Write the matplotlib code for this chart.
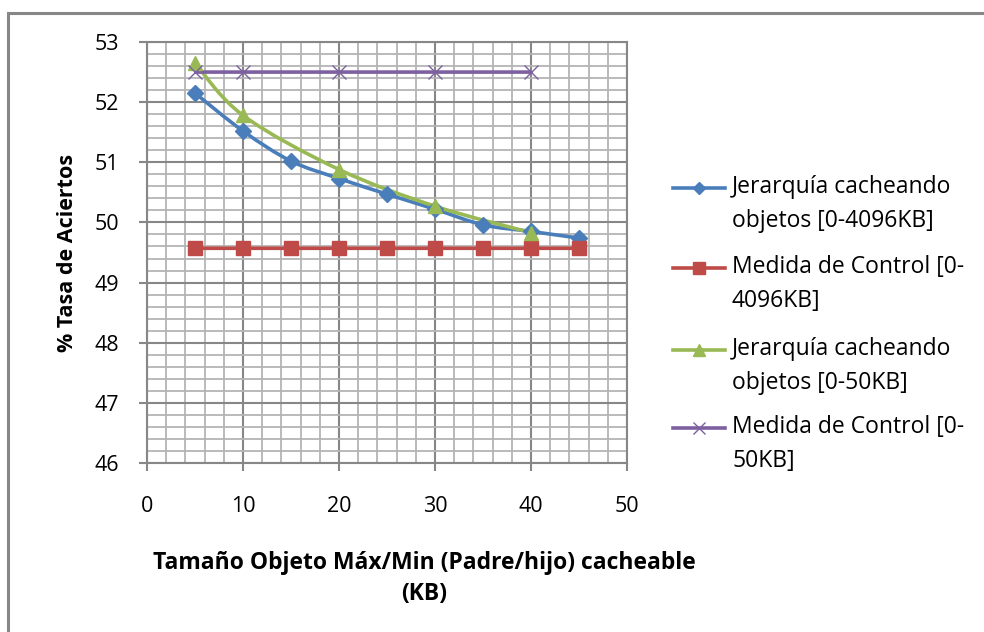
import numpy as np
import matplotlib
matplotlib.use('Agg')
import matplotlib.pyplot as plt
from matplotlib.path import Path
from matplotlib.patches import PathPatch, Rectangle
from matplotlib.lines import Line2D
from matplotlib.ticker import MultipleLocator

plt.rcParams['font.family'] = ['Open Sans', 'DejaVu Sans']

# data
x_full = [5, 10, 15, 20, 25, 30, 35, 40, 45]
jer_4096 = [52.15, 51.52, 51.02, 50.73, 50.47, 50.22, 49.96, 49.85, 49.74]
ctl_4096 = [49.57, 49.57, 49.57, 49.57, 49.57, 49.57, 49.57, 49.57, 49.57]
x_part = [5, 10, 20, 30, 40]
jer_50 = [52.65, 51.78, 50.88, 50.27, 49.83]
ctl_50 = [52.5, 52.5, 52.5, 52.5, 52.5]

labels = ['Jerarquía cacheando\nobjetos [0-4096KB]',
          'Medida de Control [0-\n4096KB]',
          'Jerarquía cacheando\nobjetos [0-50KB]',
          'Medida de Control [0-\n50KB]']
colors = ['#4a7ebb', '#be4b48', '#98b954', '#7d60a0']
markers = ['D', 's', '^', 'x']
msizes = [8, 10, 10, 10]
leg_msizes = [6, 8.5, 8, 9]


def smooth_path(xs, ys):
    # excel-like smoothed line: cubic bezier through the points
    p = np.column_stack([xs, ys]).astype(float)
    pts = np.vstack([p[0], p, p[-1]])
    verts = [p[0]]
    codes = [Path.MOVETO]
    for i in range(1, len(pts) - 2):
        p0, p1, p2, p3 = pts[i - 1], pts[i], pts[i + 1], pts[i + 2]
        verts += [p1 + (p2 - p0) / 6, p2 - (p3 - p1) / 6, p2]
        codes += [Path.CURVE4] * 3
    return Path(verts, codes)


fig = plt.figure(figsize=(9.84, 6.32), dpi=100)
ax = fig.add_axes([147 / 984, 1 - 463 / 632, 480 / 984, 421 / 632])

ax.set_xlim(0, 50)
ax.set_ylim(46, 53)
ax.xaxis.set_major_locator(MultipleLocator(10))
ax.xaxis.set_minor_locator(MultipleLocator(2))
ax.yaxis.set_major_locator(MultipleLocator(1))
ax.yaxis.set_minor_locator(MultipleLocator(0.2))
ax.grid(which='minor', color='#b4b4b4', lw=1.3)
ax.grid(which='major', color='#878787', lw=1.5)
ax.set_axisbelow(True)
for s in ax.spines.values():
    s.set_color('#878787')
    s.set_linewidth(1.5)
ax.tick_params(which='major', length=6, width=1.5, color='#878787',
               labelsize=15.5, pad=18)
ax.tick_params(which='minor', length=0)
ax.tick_params(axis='y', pad=14)

series = [(x_full, jer_4096), (x_full, ctl_4096), (x_part, jer_50), (x_part, ctl_50)]
for (xs, ys), c, m, ms in zip(series, colors, markers, msizes):
    ax.add_patch(PathPatch(smooth_path(xs, ys), fill=False, edgecolor=c,
                           lw=2.6, transform=ax.transData, zorder=3))
    if m == 'x':
        ax.plot(xs, ys, ls='none', marker=m, ms=ms, mew=1.0, color=c, zorder=4)
    else:
        ax.plot(xs, ys, ls='none', marker=m, ms=ms, mec=c, mfc=c, zorder=4)

ax.set_xlabel('Tamaño Objeto Máx/Min (Padre/hijo) cacheable\n(KB)',
              fontsize=16.5, fontweight='bold', labelpad=24, linespacing=1.4)
ax.xaxis.label.set_x((424 - 147) / 480)
ax.set_ylabel('% Tasa de Aciertos', fontsize=15.5, fontweight='bold', labelpad=12)

# legend drawn by hand so the marker sits on the first line of each entry
leg_y = [188, 268, 350, 428]
for lab, c, m, ms, y in zip(labels, colors, markers, leg_msizes, leg_y):
    yf = 1 - y / 632
    fig.add_artist(Line2D([673 / 984, 725 / 984], [yf, yf], color=c, lw=2.6))
    kw = dict(mew=1.0) if m == 'x' else dict(mec=c)
    fig.add_artist(Line2D([699 / 984], [yf], ls='none', marker=m, ms=ms,
                          color=c, **kw))
    fig.text(732 / 984, yf + 13 / 632, lab, fontsize=16.5, va='top', ha='left',
             linespacing=1.55)

# outer chart frame
fig.add_artist(Rectangle((8 / 984, -0.1), 1.1, 1 - 13 / 632 + 0.1,
                         fill=False, edgecolor='#878787', lw=2.2,
                         transform=fig.transFigure))

fig.savefig('out.png', dpi=100)
